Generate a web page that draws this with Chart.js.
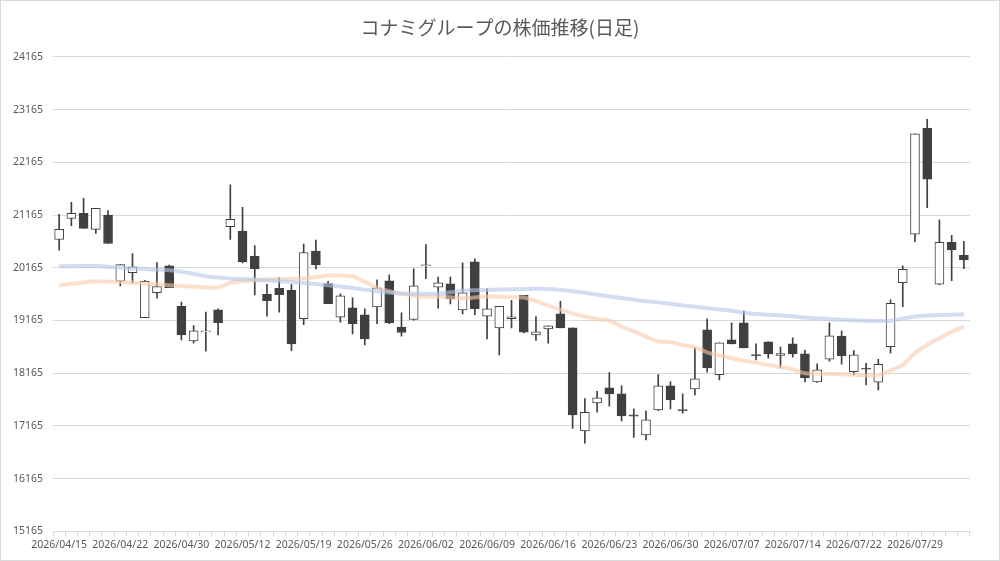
<!DOCTYPE html>
<html>
<head>
<meta charset="utf-8">
<script src="https://cdn.jsdelivr.net/npm/chart.js@4.4.1/dist/chart.umd.min.js"></script>
<style>
  html, body { margin: 0; padding: 0; background: #fff; }
  #wrap { position: relative; width: 1000px; height: 561px; }
  #frame { position: absolute; left: 0; top: 0; width: 1000px; height: 561px; box-sizing: border-box; border: 1px solid #d9d9d9; pointer-events: none; }
</style>
</head>
<body>
<div id="wrap">
  <canvas id="stockChart" width="1000" height="561"></canvas>
  <div id="frame"></div>
</div>
<script>
// Trading days
const dates = [
    "2026/04/15", "2026/04/16", "2026/04/17", "2026/04/20", "2026/04/21",
    "2026/04/22", "2026/04/23", "2026/04/24", "2026/04/27", "2026/04/28",
    "2026/04/30", "2026/05/01", "2026/05/07", "2026/05/08", "2026/05/11",
    "2026/05/12", "2026/05/13", "2026/05/14", "2026/05/15", "2026/05/18",
    "2026/05/19", "2026/05/20", "2026/05/21", "2026/05/22", "2026/05/25",
    "2026/05/26", "2026/05/27", "2026/05/28", "2026/05/29", "2026/06/01",
    "2026/06/02", "2026/06/03", "2026/06/04", "2026/06/05", "2026/06/08",
    "2026/06/09", "2026/06/10", "2026/06/11", "2026/06/12", "2026/06/15",
    "2026/06/16", "2026/06/17", "2026/06/18", "2026/06/19", "2026/06/22",
    "2026/06/23", "2026/06/24", "2026/06/25", "2026/06/26", "2026/06/29",
    "2026/06/30", "2026/07/01", "2026/07/02", "2026/07/03", "2026/07/06",
    "2026/07/07", "2026/07/08", "2026/07/09", "2026/07/10", "2026/07/13",
    "2026/07/14", "2026/07/15", "2026/07/16", "2026/07/17", "2026/07/21",
    "2026/07/22", "2026/07/23", "2026/07/24", "2026/07/27", "2026/07/28",
    "2026/07/29", "2026/07/30", "2026/07/31", "2026/08/03", "2026/08/04"
];

const opens = [
    20701, 21102, 21197, 20892, 21165, 19908, 20073, 19216, 19692, 20200,
    19432, 18778, 18949, 19368, 20943, 20860, 20384, 19660, 19775, 19736,
    19197, 20479, 19863, 19228, 19405, 19272, 19424, 19918, 19038, 19184,
    20203, 19798, 19861, 19367, 20279, 19247, 19026, 19197, 19640, 18893,
    19007, 19292, 19026, 17070, 17601, 17886, 17772, 17374, 16994, 17469,
    17924, 17475, 17867, 18988, 18139, 18798, 19121, 18519, 18760, 18500,
    18722, 18532, 18000, 18431, 18868, 18196, 18259, 17994, 18670, 19883,
    20800, 22810, 19852, 20648, 20402
];
const highs = [
    21178, 21406, 21482, 21292, 21248, 20225, 20435, 19927, 20263, 20213,
    19514, 19070, 19324, 19387, 21736, 21311, 20587, 19851, 19978, 19844,
    20613, 20689, 19908, 19671, 19595, 19386, 19937, 20032, 19310, 20146,
    20602, 19988, 19988, 20260, 20336, 19766, 19431, 19545, 19640, 19241,
    19064, 19526, 19026, 17684, 17823, 18177, 17924, 17487, 17450, 18140,
    18007, 17772, 18646, 19197, 18741, 19121, 19342, 18722, 18760, 18659,
    18836, 18602, 18342, 19121, 18969, 18594, 18354, 18430, 19555, 20199,
    22702, 22980, 21072, 20781, 20667
];
const lows = [
    20498, 20962, 20911, 20816, 20625, 19819, 19876, 19216, 19590, 19787,
    18797, 18733, 18581, 18892, 20701, 20257, 19648, 19248, 19324, 18594,
    19083, 20143, 19482, 19133, 18912, 18703, 19102, 19102, 18867, 19171,
    19956, 19399, 19481, 19291, 19273, 18817, 18513, 19026, 18931, 18785,
    18735, 19026, 17120, 16836, 17424, 17538, 17260, 16949, 16899, 17456,
    17488, 17405, 17753, 18184, 18038, 18722, 18646, 18418, 18450, 18266,
    18469, 18000, 17988, 18393, 18336, 18133, 17943, 17848, 18544, 19428,
    20661, 21305, 19839, 19921, 20149
];
const closes = [
    20892, 21197, 20911, 21292, 20625, 20225, 20181, 19908, 19806, 19787,
    18892, 18968, 18968, 19121, 21082, 20276, 20143, 19540, 19654, 18721,
    20454, 20219, 19482, 19633, 19102, 18817, 19785, 19121, 18937, 19823,
    20222, 19880, 19576, 19690, 19387, 19387, 19431, 19235, 18943, 18950,
    19064, 19026, 17374, 17424, 17696, 17772, 17355, 17348, 17279, 17924,
    17658, 17456, 18057, 18266, 18741, 18722, 18646, 18494, 18532, 18538,
    18532, 18076, 18228, 18874, 18494, 18512, 18240, 18335, 19492, 20136,
    22702, 21843, 20648, 20503, 20313
];

// Moving averages
const maLong = [
    20193, 20195, 20198, 20200, 20185, 20168, 20155, 20140, 20128, 20117,
    20090, 20050, 20003, 19980, 19958, 19950, 19940, 19928, 19910, 19895,
    19874, 19855, 19832, 19810, 19780, 19750, 19720, 19695, 19675, 19670,
    19671, 19675, 19700, 19730, 19740, 19745, 19750, 19755, 19760, 19765,
    19762, 19745, 19720, 19690, 19655, 19621, 19590, 19560, 19530, 19508,
    19480, 19450, 19425, 19398, 19375, 19350, 19310, 19290, 19275, 19260,
    19245, 19220, 19205, 19190, 19180, 19170, 19160, 19157, 19157, 19200,
    19240, 19260, 19270, 19275, 19277
];
const maShort = [
    19832, 19860, 19885, 19908, 19900, 19895, 19880, 19865, 19850, 19832,
    19820, 19810, 19795, 19790, 19880, 19910, 19927, 19940, 19950, 19958,
    19960, 19990, 20020, 20020, 20000, 19900, 19790, 19720, 19670, 19635,
    19620, 19610, 19605, 19585, 19600, 19620, 19615, 19608, 19600, 19530,
    19450, 19370, 19300, 19240, 19190, 19165, 19050, 18960, 18860, 18770,
    18754, 18700, 18659, 18560, 18500, 18450, 18405, 18365, 18320, 18280,
    18240, 18165, 18160, 18150, 18145, 18135, 18120, 18133, 18220, 18322,
    18550, 18700, 18828, 18950, 19049
];

const yTicks = [15165, 16165, 17165, 18165, 19165, 20165, 21165, 22165, 23165, 24165];

const candleDark = "#404040";
const textColor = "#595959";
const gridColor = "#d9d9d9";

const wickData = lows.map((l, i) => [l, highs[i]]);
const bodyData = opens.map((o, i) => [o, closes[i]]);
const bodyColors = opens.map((o, i) => closes[i] >= o ? "#ffffff" : candleDark);

const ctx = document.getElementById("stockChart").getContext("2d");
new Chart(ctx, {
    data: {
        labels: dates,
        datasets: [
            {
                type: "line",
                data: maLong,
                borderColor: "rgba(180, 199, 231, 0.6)",
                borderWidth: 4,
                pointRadius: 0,
                tension: 0.3,
                order: 0,
            },
            {
                type: "line",
                data: maShort,
                borderColor: "rgba(248, 203, 173, 0.6)",
                borderWidth: 4,
                pointRadius: 0,
                tension: 0.3,
                order: 0,
            },
            {
                type: "bar",
                data: bodyData,
                backgroundColor: bodyColors,
                borderColor: candleDark,
                borderWidth: 1,
                borderSkipped: false,
                barThickness: 9,
                grouped: false,
                order: 1,
            },
            {
                type: "bar",
                data: wickData,
                backgroundColor: candleDark,
                borderWidth: 0,
                barThickness: 1,
                grouped: false,
                order: 2,
            },
        ],
    },
    options: {
        responsive: false,
        animation: false,
        layout: {
            padding: { left: 3, right: 3, top: 0, bottom: 8 },
        },
        plugins: {
            legend: { display: false },
            tooltip: { enabled: false },
            title: {
                display: true,
                text: "コナミグループの株価推移(日足)",
                color: textColor,
                font: { family: "'Noto Sans CJK JP', 'Noto Sans'", size: 19, weight: "normal" },
                padding: { top: 16, bottom: 18 },
            },
        },
        scales: {
            x: {
                offset: true,
                grid: {
                    display: true,
                    offset: true,
                    drawOnChartArea: false,
                    drawTicks: true,
                    tickLength: 5,
                    color: gridColor,
                },
                border: { color: gridColor },
                ticks: {
                    autoSkip: false,
                    maxRotation: 0,
                    minRotation: 0,
                    padding: 2,
                    color: textColor,
                    font: { family: "'Noto Sans'", size: 10.5 },
                    callback: function (value, index) {
                        return index % 5 === 0 ? dates[index] : "";
                    },
                },
            },
            y: {
                min: 15165,
                max: 24165,
                afterBuildTicks: function (scale) {
                    scale.ticks = yTicks.map(v => ({ value: v }));
                },
                grid: { color: gridColor, drawTicks: false },
                border: { display: false },
                ticks: {
                    padding: 10,
                    color: textColor,
                    font: { family: "'Noto Sans'", size: 10.5 },
                    callback: function (value) { return String(value); },
                },
            },
            // empty right axis, only keeps space on the right side
            ySpace: {
                position: "right",
                min: 15165,
                max: 24165,
                grid: { display: false },
                border: { display: false },
                ticks: { display: false },
                afterFit: function (scale) { scale.width = 27; },
            },
        },
    },
});
</script>
</body>
</html>
